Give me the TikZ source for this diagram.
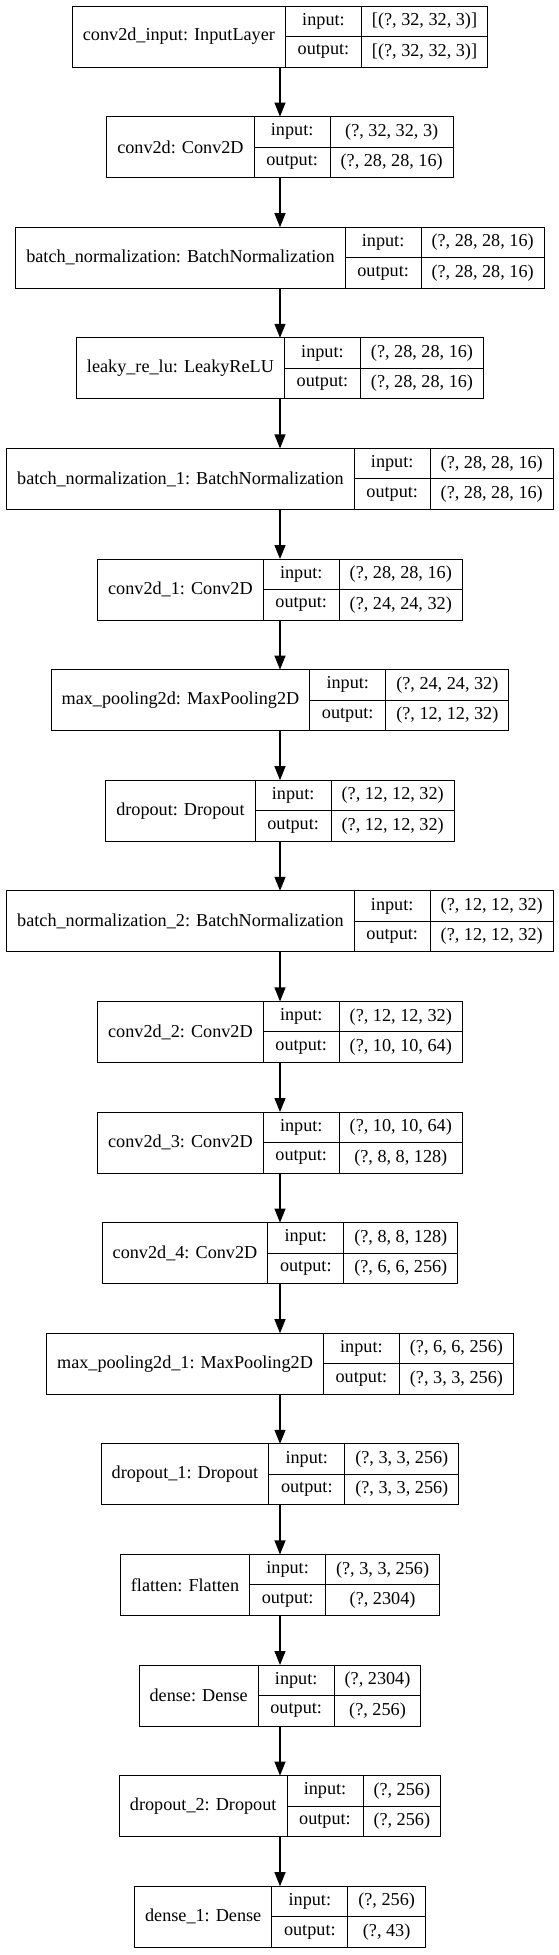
\documentclass[tikz,border=0pt]{standalone}
\usepackage{fontspec}
\setmainfont{Liberation Serif}
\usetikzlibrary{arrows.meta}
\newlength\lyrwn \newlength\lyrwa \newlength\lyrwb
\newcommand\lyrfont{\fontsize{18.2}{22}\selectfont}
\tikzset{
  fld/.style={draw=black, line width=1pt, outer sep=0pt, inner sep=0pt, font=\lyrfont, text=black, align=center},
  arr/.style={draw=black, line width=1.2pt, -{Triangle[length=14pt,width=11pt]}}
}
\newcommand\lyr[5]{%
  \pgfinterruptpicture
  \settowidth\lyrwn{\lyrfont #3}\global\lyrwn=\lyrwn
  \settowidth\lyrwa{\lyrfont #4}\global\lyrwa=\lyrwa
  \settowidth\lyrwb{\lyrfont #5}\global\lyrwb=\lyrwb
  \endpgfinterruptpicture
  \ifdim\lyrwb>\lyrwa \lyrwa=\lyrwb\fi
  \pgfmathsetmacro\wn{\lyrwn+21}%
  \pgfmathsetmacro\wv{\lyrwa+21}%
  \pgfmathsetmacro\wt{\wn+76+\wv}%
  \pgfmathsetmacro\xl{280-\wt/2}%
  \pgfmathsetmacro\yt{-(6+110.6*#2)}%
  \coordinate (#1t) at (280,\yt);
  \coordinate (#1b) at (280,\yt-61);
  \node[fld, minimum width=\wn pt, minimum height=61pt, anchor=north west] (#1n) at (\xl,\yt) {#3};
  \node[fld, minimum width=76pt, minimum height=30.5pt, anchor=north west] (#1li) at (#1n.north east) {input:};
  \node[fld, minimum width=76pt, minimum height=30.5pt, anchor=north west] (#1lo) at (#1li.south west) {output:};
  \node[fld, minimum width=\wv pt, minimum height=30.5pt, anchor=north west] (#1vi) at (#1li.north east) {#4};
  \node[fld, minimum width=\wv pt, minimum height=30.5pt, anchor=north west] (#1vo) at (#1lo.north east) {#5};
}
\begin{document}
\begin{tikzpicture}[x=1pt,y=1pt]
\useasboundingbox (0,0) rectangle (559,-1955);
\fill[white] (0,0) rectangle (559,-1955);
\lyr{L0}{0}{conv2d\_input: InputLayer}{[(?, 32, 32, 3)]}{[(?, 32, 32, 3)]}
\lyr{L1}{1}{conv2d: Conv2D}{(?, 32, 32, 3)}{(?, 28, 28, 16)}
\lyr{L2}{2}{batch\_normalization: BatchNormalization}{(?, 28, 28, 16)}{(?, 28, 28, 16)}
\lyr{L3}{3}{leaky\_re\_lu: LeakyReLU}{(?, 28, 28, 16)}{(?, 28, 28, 16)}
\lyr{L4}{4}{batch\_normalization\_1: BatchNormalization}{(?, 28, 28, 16)}{(?, 28, 28, 16)}
\lyr{L5}{5}{conv2d\_1: Conv2D}{(?, 28, 28, 16)}{(?, 24, 24, 32)}
\lyr{L6}{6}{max\_pooling2d: MaxPooling2D}{(?, 24, 24, 32)}{(?, 12, 12, 32)}
\lyr{L7}{7}{dropout: Dropout}{(?, 12, 12, 32)}{(?, 12, 12, 32)}
\lyr{L8}{8}{batch\_normalization\_2: BatchNormalization}{(?, 12, 12, 32)}{(?, 12, 12, 32)}
\lyr{L9}{9}{conv2d\_2: Conv2D}{(?, 12, 12, 32)}{(?, 10, 10, 64)}
\lyr{L10}{10}{conv2d\_3: Conv2D}{(?, 10, 10, 64)}{(?, 8, 8, 128)}
\lyr{L11}{11}{conv2d\_4: Conv2D}{(?, 8, 8, 128)}{(?, 6, 6, 256)}
\lyr{L12}{12}{max\_pooling2d\_1: MaxPooling2D}{(?, 6, 6, 256)}{(?, 3, 3, 256)}
\lyr{L13}{13}{dropout\_1: Dropout}{(?, 3, 3, 256)}{(?, 3, 3, 256)}
\lyr{L14}{14}{flatten: Flatten}{(?, 3, 3, 256)}{(?, 2304)}
\lyr{L15}{15}{dense: Dense}{(?, 2304)}{(?, 256)}
\lyr{L16}{16}{dropout\_2: Dropout}{(?, 256)}{(?, 256)}
\lyr{L17}{17}{dense\_1: Dense}{(?, 256)}{(?, 43)}
\foreach \a/\b in {L0/L1,L1/L2,L2/L3,L3/L4,L4/L5,L5/L6,L6/L7,L7/L8,L8/L9,L9/L10,L10/L11,L11/L12,L12/L13,L13/L14,L14/L15,L15/L16,L16/L17}
  \draw[arr] (\a b) -- (\b t);
\end{tikzpicture}
\end{document}
